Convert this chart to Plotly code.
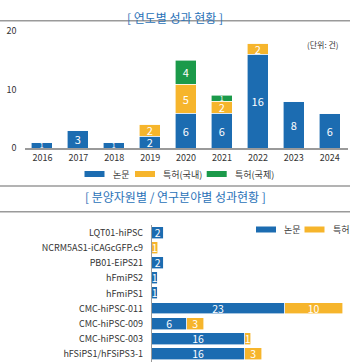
import plotly.graph_objects as go

W, H = 350, 362
FONT = "Noto Sans CJK KR"
BLUE = "#1c6cb1"
YELLOW = "#f6b52c"
GREEN = "#1b9a4a"
TITLE_C = "#2a72b8"
TXT = "#333333"

# ---- top chart data ----
years = ["2016", "2017", "2018", "2019", "2020", "2021", "2022", "2023", "2024"]
papers = [1, 3, 1, 2, 6, 6, 16, 8, 6]
pat_dom = [0, 0, 0, 2, 5, 2, 2, 0, 0]
pat_int = [0, 0, 0, 0, 4, 1, 0, 0, 0]
y_ticks = [0, 10, 20]
top_series = ["논문", "특허(국내)", "특허(국제)"]

# ---- bottom chart data ----
lines = ["LQT01-hiPSC", "NCRM5AS1-iCAGcGFP.c9", "PB01-EiPS21", "hFmiPS2", "hFmiPS1",
         "CMC-hiPSC-011", "CMC-hiPSC-009", "CMC-hiPSC-003", "hFSiPS1/hFSiPS3-1"]
line_papers = [2, 0, 2, 1, 1, 23, 6, 16, 16]
line_patents = [0, 1, 0, 0, 0, 10, 3, 1, 3]
bottom_series = ["논문", "특허"]


def lab(vals):
    return [str(v) if v else "" for v in vals]


def px_x(p):
    return p / W


def px_y(p):
    return 1 - p / H


fig = go.Figure()

common = dict(textposition="inside", insidetextanchor="middle", constraintext="none",
              textangle=0, showlegend=False, hoverinfo="skip", cliponaxis=False)

for name, vals, col in zip(top_series, [papers, pat_dom, pat_int], [BLUE, YELLOW, GREEN]):
    fig.add_trace(go.Bar(x=years, y=vals, name=name, text=lab(vals),
                         marker=dict(color=col, line=dict(color="white", width=0.6)),
                         insidetextfont=dict(color="white", family=FONT,
                                             size=[7 if v == 1 else 11 for v in vals]),
                         width=0.585, xaxis="x", yaxis="y", **common))

for name, vals, col in zip(bottom_series, [line_papers, line_patents], [BLUE, YELLOW]):
    fig.add_trace(go.Bar(y=lines, x=vals, name=name, orientation="h", text=lab(vals),
                         marker=dict(color=col, line=dict(color="white", width=0.6)),
                         insidetextfont=dict(color="white", family=FONT, size=10.5),
                         width=0.78, xaxis="x2", yaxis="y2", **common))

fig.update_layout(
    width=W, height=H, margin=dict(l=0, r=0, t=0, b=0, autoexpand=False),
    paper_bgcolor="white", plot_bgcolor="white",
    barmode="stack", bargap=0, showlegend=False,
    font=dict(family=FONT, color=TXT, size=10),
    xaxis=dict(domain=[px_x(24.5), px_x(347.7)], type="category", range=[-0.5, 8.5], anchor="y",
               showline=True, linecolor="#9a9a9a", linewidth=1.5, ticks="", automargin=False,
               tickfont=dict(size=9, color=TXT), showgrid=False, fixedrange=True),
    yaxis=dict(domain=[px_y(148), px_y(31.3)], range=[0, 20], tickvals=y_ticks, automargin=False,
               anchor="x", showgrid=False, zeroline=False, showline=False, ticks="",
               ticklabelstandoff=7, tickfont=dict(size=9, color=TXT)),
    xaxis2=dict(domain=[px_x(152), px_x(349.2)], range=[0, 34], visible=False, automargin=False,
                anchor="y2"),
    yaxis2=dict(domain=[px_y(361.6), px_y(225.1)], type="category", automargin=False, anchor="x2",
                categoryorder="array", categoryarray=lines, range=[8.5, -0.5],
                showline=True, linecolor="#9a9a9a", linewidth=1.2, ticks="",
                ticklabelstandoff=6, tickfont=dict(size=9, color=TXT), showgrid=False),
)

# titles and separators
fig.add_annotation(text="[ 연도별 성과 현황 ]", x=0.5, y=px_y(7), xref="paper", yref="paper",
                   showarrow=False, font=dict(size=12, color=TITLE_C, family=FONT))
fig.add_annotation(text="[ 분양자원별 / 연구분야별 성과현황 ]", x=0.5, y=px_y(196.5), xref="paper",
                   yref="paper", showarrow=False, font=dict(size=12, color=TITLE_C, family=FONT))
fig.add_annotation(text="(단위: 건)", x=px_x(341), y=px_y(37), xref="paper", yref="paper",
                   xanchor="right", showarrow=False, font=dict(size=8, color=TXT, family=FONT))
for yy in [20.7, 186, 211.7]:
    fig.add_shape(type="line", xref="paper", yref="paper", x0=0, x1=1, y0=px_y(yy), y1=px_y(yy),
                  line=dict(color="#9a9a9a", width=1.5))

# legends (keys drawn as small rectangles with text labels)
def legend_item(x0, yc, name, col):
    fig.add_shape(type="rect", xref="paper", yref="paper", x0=px_x(x0), x1=px_x(x0 + 20),
                  y0=px_y(yc + 3), y1=px_y(yc - 3), fillcolor=col, line=dict(width=0))
    fig.add_annotation(text=name, x=px_x(x0 + 26), y=px_y(yc), xref="paper", yref="paper",
                       xanchor="left", showarrow=False, font=dict(size=9, color=TXT, family=FONT))


for x0, name, col in zip([84.5, 135, 206.7], top_series, [BLUE, YELLOW, GREEN]):
    legend_item(x0, 174, name, col)
for x0, name, col in zip([256, 304.5], bottom_series, [BLUE, YELLOW]):
    legend_item(x0, 229.5, name, col)

fig.write_html("out.html")
